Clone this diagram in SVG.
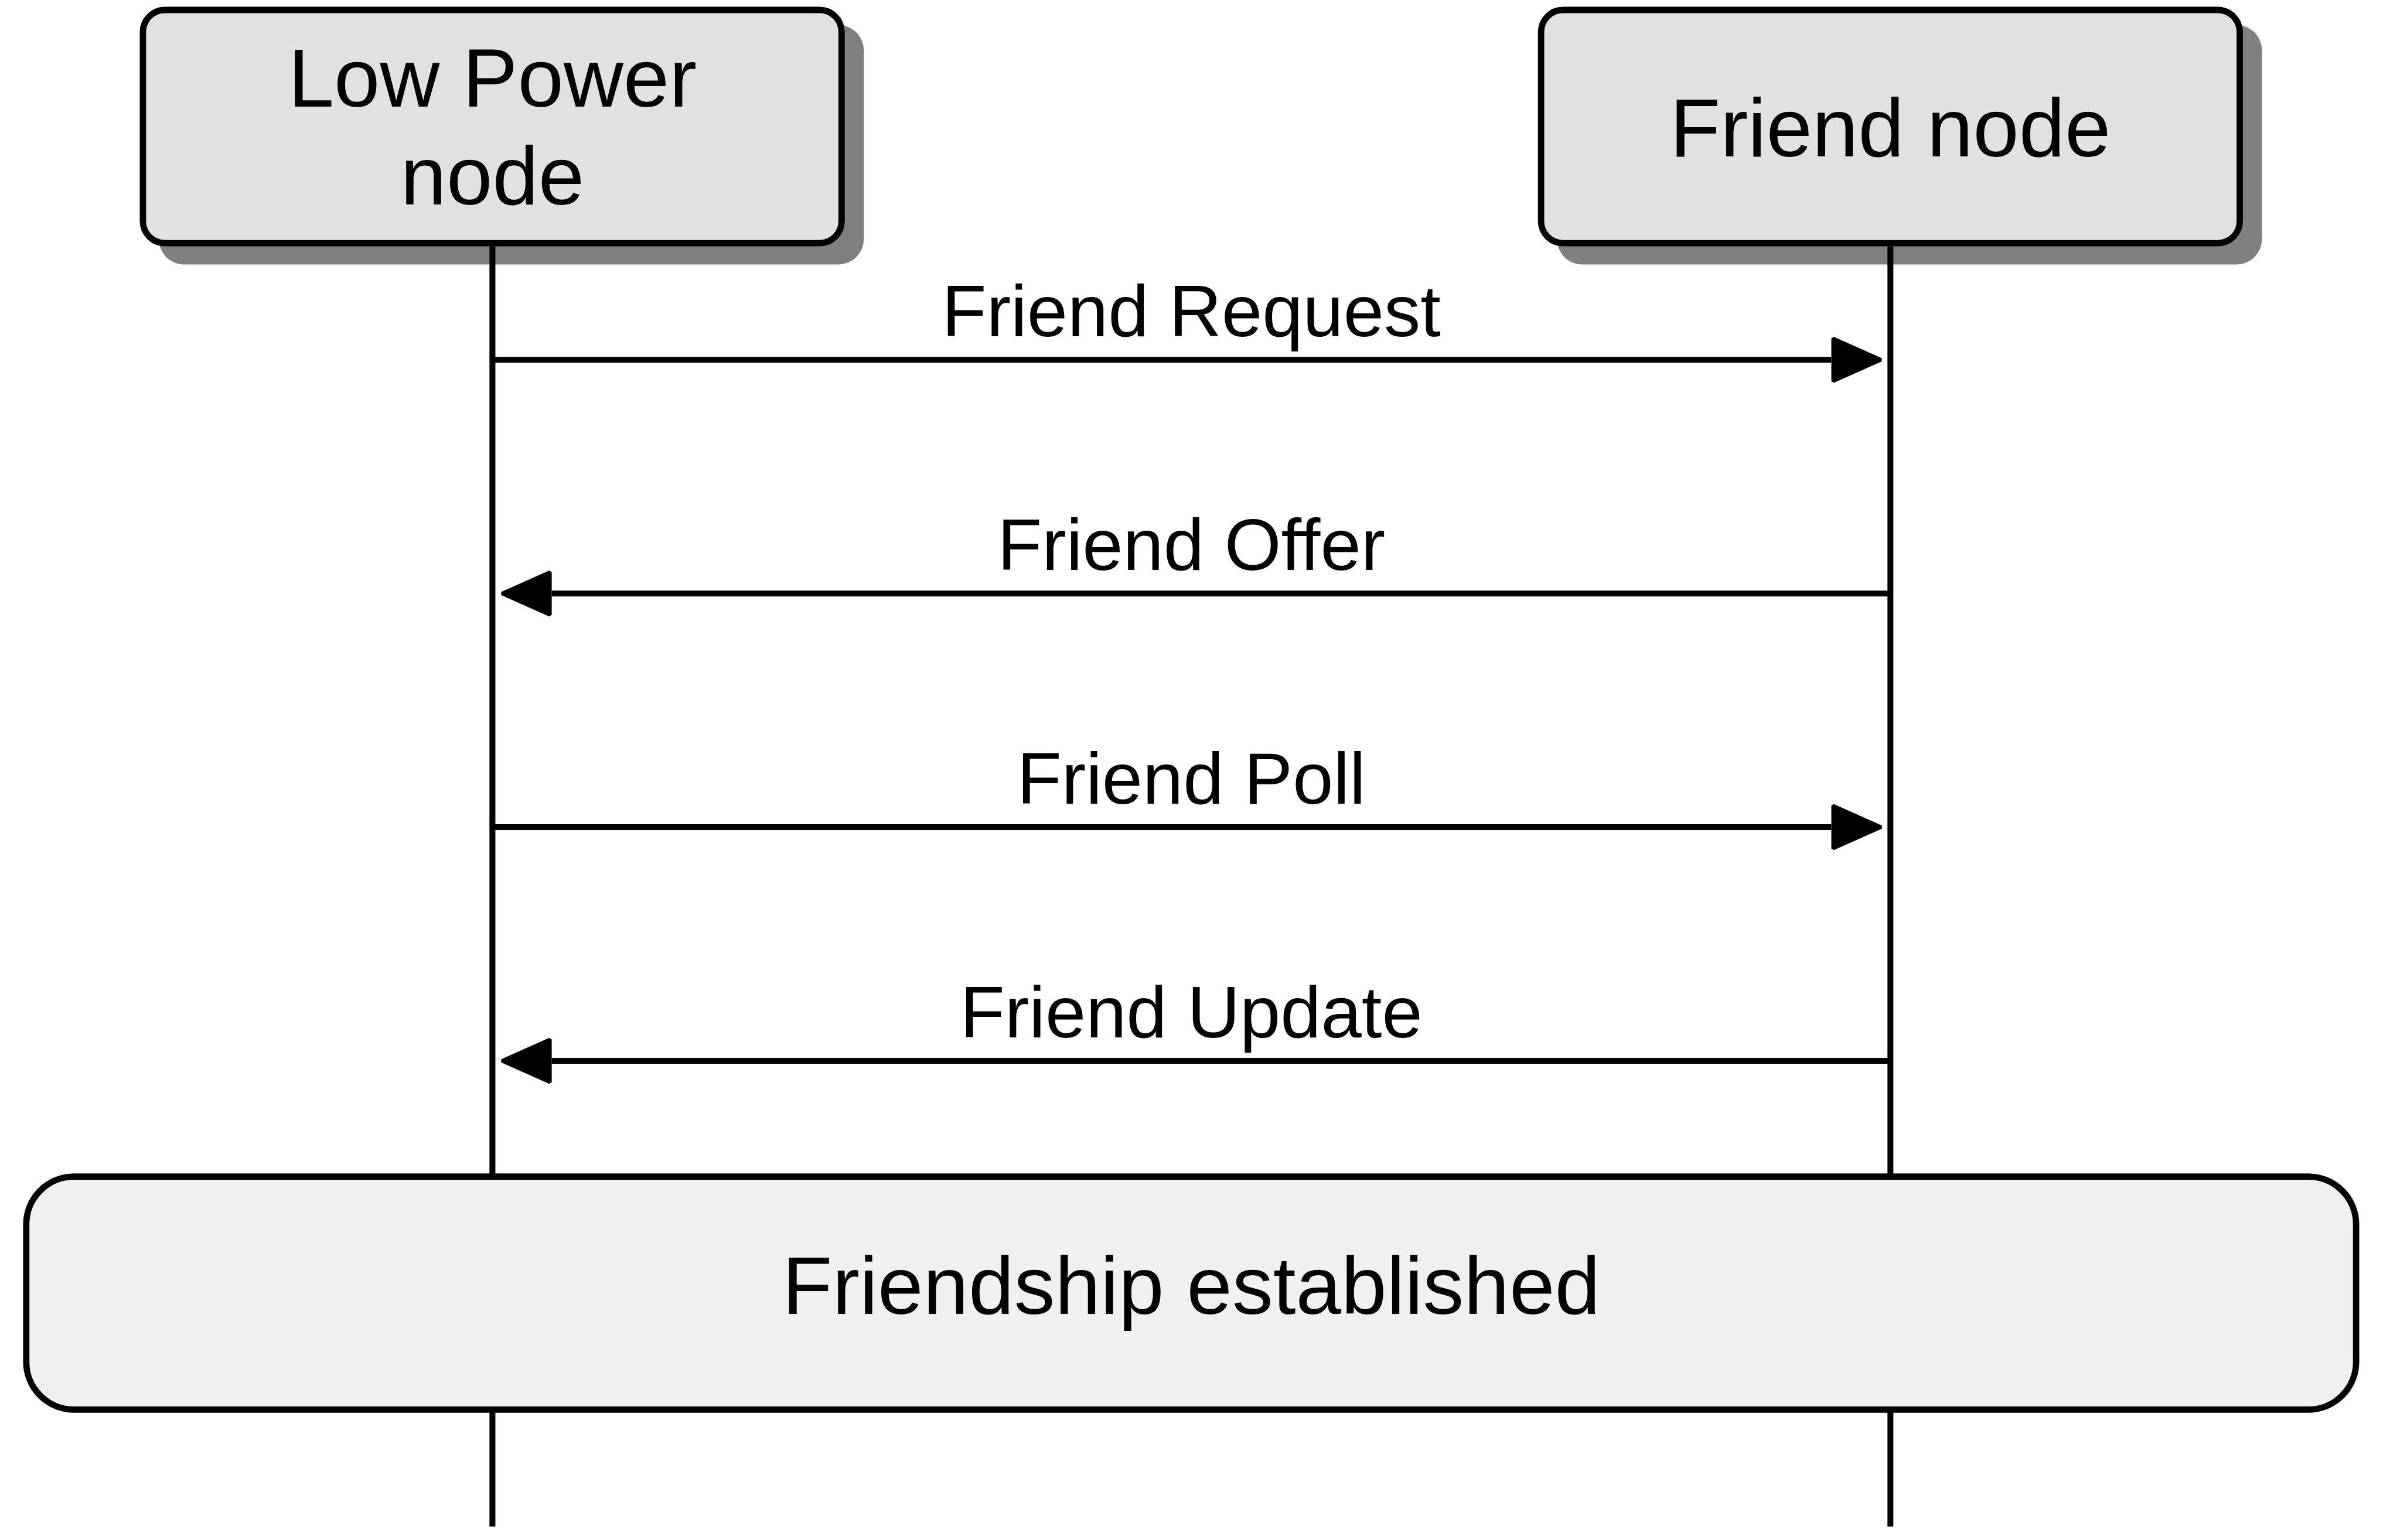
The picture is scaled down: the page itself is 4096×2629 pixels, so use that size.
<svg xmlns="http://www.w3.org/2000/svg" width="4096" height="2629" viewBox="0 0 4096 2629">
  <style>
    .shadow { fill: #808080; }
    .node { fill: #e1e1e1; stroke: #000; stroke-width: 10.8; }
    .band { fill: #f0f0f0; stroke: #000; stroke-width: 10.8; }
    .life { stroke: #000; stroke-width: 10.1; fill: none; }
    .msg { stroke: #000; stroke-width: 10.1; fill: none; marker-end: url(#head); }
    .ntext { font-family: "Liberation Sans", Arial, sans-serif; font-size: 141px; text-anchor: middle; fill: #000; }
    .ltext { font-family: "Liberation Sans", Arial, sans-serif; font-size: 124.5px; text-anchor: middle; fill: #000; }
    .btext { font-family: "Liberation Sans", Arial, sans-serif; font-size: 139.5px; text-anchor: middle; fill: #000; }
  </style>
  <defs>
    <marker id="head" markerUnits="userSpaceOnUse" viewBox="-5 -45 100 90" markerWidth="100" markerHeight="90" refX="0" refY="0" orient="auto" overflow="visible">
      <path d="M3,-36.5 L85,0 L3,36.5 Z" fill="#000" stroke="#000" stroke-width="6" stroke-linejoin="bevel"/>
    </marker>
  </defs>
  <rect width="4096" height="2629" fill="#fff"/>

  <g id="node-low-power">
    <rect class="shadow" x="271" y="42.6" width="1203.2" height="409" rx="43.4" ry="43.4"/>
    <rect class="node" x="243.9" y="17" width="1192.4" height="398.2" rx="37.6" ry="37.6"/>
    <text class="ntext" x="840.4" y="182.1">Low Power</text>
    <text class="ntext" x="840.4" y="349">node</text>
  </g>

  <g id="node-friend">
    <rect class="shadow" x="2657.2" y="42.6" width="1203.2" height="409" rx="43.4" ry="43.4"/>
    <rect class="node" x="2630.1" y="17" width="1192.4" height="398.2" rx="37.6" ry="37.6"/>
    <text class="ntext" x="3226.3" y="266.7">Friend node</text>
  </g>

  <g id="lifelines">
    <line class="life" x1="840.4" y1="420.6" x2="840.4" y2="2606"/>
    <line class="life" x1="3226.3" y1="420.6" x2="3226.3" y2="2606"/>
  </g>

  <g id="connectors">
    <line class="msg" x1="840.4" y1="614.3" x2="3125.5" y2="614.3"/>
    <text class="ltext" x="2033.2" y="573.8">Friend Request</text>
    <line class="msg" x1="3226.3" y1="1013.2" x2="941.6" y2="1013.2"/>
    <text class="ltext" x="2033.2" y="972.7">Friend Offer</text>
    <line class="msg" x1="840.4" y1="1412" x2="3125.5" y2="1412"/>
    <text class="ltext" x="2033.2" y="1371.6">Friend Poll</text>
    <line class="msg" x1="3226.3" y1="1811" x2="941.6" y2="1811"/>
    <text class="ltext" x="2033.2" y="1770.5">Friend Update</text>
  </g>

  <g id="friendship-established">
    <rect class="band" x="44.8" y="2008.6" width="3976.3" height="397.8" rx="81.7" ry="81.7"/>
    <text class="btext" x="2033.2" y="2243.1">Friendship established</text>
  </g>
</svg>
